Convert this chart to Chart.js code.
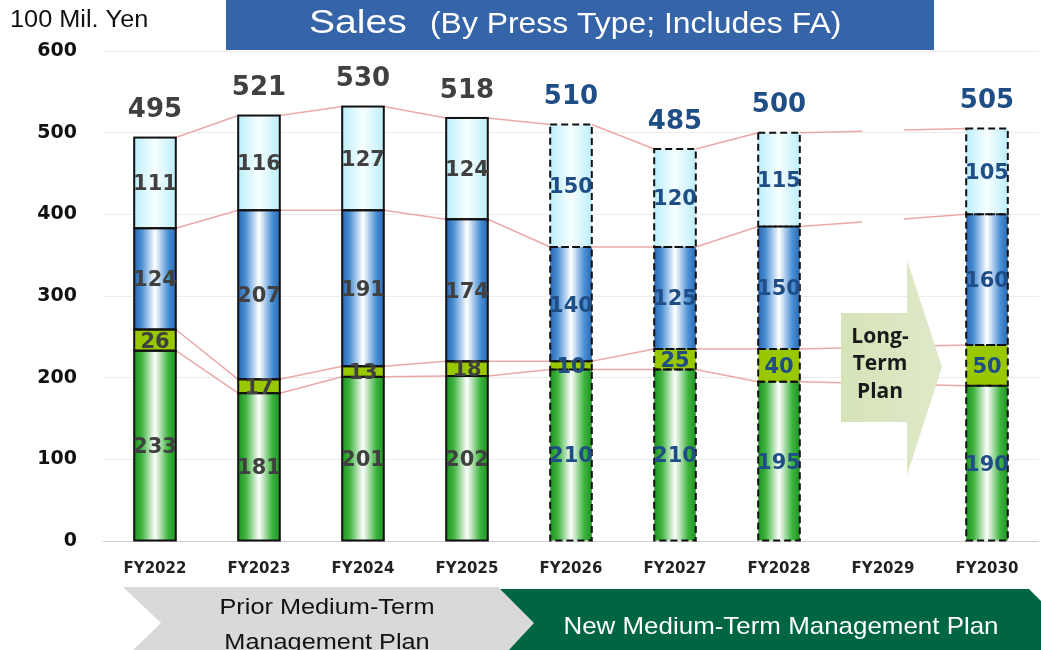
<!DOCTYPE html>
<html><head><meta charset="utf-8">
<script src="https://cdn.jsdelivr.net/npm/chart.js@4/dist/chart.umd.min.js"></script>
<style>html,body{margin:0;padding:0;background:#fff;overflow:hidden}#wrap{width:1041px;height:650px;position:relative}</style>
</head><body><div id="wrap"><canvas id="c" width="1041" height="650"></canvas></div>
<script>
const categories = ['FY2022','FY2023','FY2024','FY2025','FY2026','FY2027','FY2028','FY2029','FY2030'];
const seriesGreen  = [233, 181, 201, 202, 210, 210, 195, null, 190];
const seriesYG     = [ 26,  17,  13,  18,  10,  25,  40, null,  50];
const seriesBlue   = [124, 207, 191, 174, 140, 125, 150, null, 160];
const seriesLight  = [111, 116, 127, 124, 150, 120, 115, null, 105];
const totalLabels  = [495, 521, 530, 518, 510, 485, 500, null, 505];
const planFlags    = [false,false,false,false,true,true,true,true,true];
const yTicks = [0,100,200,300,400,500,600];
const unitLabel = '100 Mil. Yen';
const titleMain = 'Sales';
const titleSub = '(By Press Type; Includes FA)';
const priorPlanLines = ['Prior Medium-Term','Management Plan'];
const newPlanLabel = 'New Medium-Term Management Plan';
const longTermLines = ['Long-','Term','Plan'];
const longTermIndex = 7;

const BAR_PCT = 0.4;
function barW(chart){ const a = chart.chartArea; return (a.right - a.left) / categories.length * BAR_PCT; }
function grad(stops, fallback){
  return (ctx) => {
    const chart = ctx.chart;
    const xs = chart.scales && chart.scales.x;
    if (!xs || ctx.type !== 'data' || !chart.chartArea) return fallback;
    const cx = xs.getPixelForValue(ctx.dataIndex);
    const w = barW(chart);
    const g = chart.ctx.createLinearGradient(cx - w/2, 0, cx + w/2, 0);
    stops.forEach(s => g.addColorStop(s[0], s[1]));
    return g;
  };
}
const greenStops = [[0,'#1f9420'],[0.18,'#3fb33f'],[0.5,'#ffffff'],[0.82,'#3fb33f'],[1,'#1f9420']];
const blueStops  = [[0,'#2a69b4'],[0.18,'#4b90d5'],[0.5,'#ffffff'],[0.82,'#4b90d5'],[1,'#2a69b4']];
const lightStops = [[0,'#bdeef9'],[0.5,'#f7feff'],[1,'#bdeef9']];

const DS = [
  {label:'A', data: seriesGreen, backgroundColor: grad(greenStops,'#47b547')},
  {label:'B', data: seriesYG, backgroundColor: '#99c800'},
  {label:'C', data: seriesBlue, backgroundColor: grad(blueStops,'#4d92d6')},
  {label:'D', data: seriesLight, backgroundColor: grad(lightStops,'#d8f6fc')},
];
DS.forEach(d => { d.borderWidth = 0; d.barPercentage = BAR_PCT; d.categoryPercentage = 1.0; d.stack = 's'; });

const ACTUAL_TXT = '#404040', PLAN_TXT = '#1f4e86';

function scaledText(ctx, text, x, y, font, sx){
  ctx.save(); ctx.translate(x, y); ctx.scale(sx, 1); ctx.font = font; ctx.fillText(text, 0, 0); ctx.restore();
}

const overlay = {
  id: 'overlay',
  beforeDatasetsDraw(chart){
    const ctx = chart.ctx, xs = chart.scales.x, ys = chart.scales.y;
    const w = barW(chart);
    const idx = categories.map((c,i)=>i).filter(i => seriesGreen[i] != null);
    const levels = [];
    for (let k = 0; k < 4; k++) levels.push(categories.map((c,i)=> seriesGreen[i]==null ? null : DS.slice(0,k+1).reduce((s,d)=>s+d.data[i],0)));
    ctx.save();
    ctx.strokeStyle = '#eaa9a9'; ctx.lineWidth = 1.5;
    for (let n = 0; n < idx.length - 1; n++) {
      const i = idx[n], j = idx[n+1];
      const x1 = xs.getPixelForValue(i) + w/2, x2 = xs.getPixelForValue(j) - w/2;
      levels.forEach(lv => {
        const y1 = ys.getPixelForValue(lv[i]), y2 = ys.getPixelForValue(lv[j]);
        const yAt = x => y1 + (y2 - y1) * (x - x1) / (x2 - x1);
        let pts = [x1];
        for (let m = i+1; m < j; m++) { const cm = xs.getPixelForValue(m); pts.push(cm - w/2, cm + w/2); }
        pts.push(x2);
        ctx.beginPath();
        for (let p = 0; p < pts.length; p += 2) { ctx.moveTo(pts[p], yAt(pts[p])); ctx.lineTo(pts[p+1], yAt(pts[p+1])); }
        ctx.stroke();
      });
    }
    ctx.restore();
  },
  afterDatasetsDraw(chart){
    const ctx = chart.ctx, xs = chart.scales.x;
    ctx.save();
    DS.forEach((d, di) => {
      const meta = chart.getDatasetMeta(di);
      meta.data.forEach((el, i) => {
        if (d.data[i] == null) return;
        const p = el.getProps(['x','y','base','width'], true);
        ctx.strokeStyle = '#111'; ctx.lineWidth = 2;
        ctx.setLineDash(planFlags[i] ? [7,4] : []);
        ctx.strokeRect(p.x - p.width/2, Math.min(p.y,p.base), p.width, Math.abs(p.base - p.y));
      });
    });
    ctx.setLineDash([]);
    ctx.textAlign = 'center'; ctx.textBaseline = 'middle';
    ctx.font = 'bold 21px "DejaVu Sans"';
    DS.forEach((d, di) => {
      const meta = chart.getDatasetMeta(di);
      meta.data.forEach((el, i) => {
        if (d.data[i] == null) return;
        const p = el.getProps(['x','y','base'], true);
        ctx.fillStyle = planFlags[i] ? PLAN_TXT : ACTUAL_TXT;
        ctx.fillText(String(d.data[i]), p.x, (p.y + p.base)/2 + 2);
      });
    });
    ctx.font = 'bold 26px "DejaVu Sans"';
    const topMeta = chart.getDatasetMeta(3);
    topMeta.data.forEach((el, i) => {
      if (totalLabels[i] == null) return;
      const p = el.getProps(['x','y'], true);
      ctx.fillStyle = planFlags[i] ? PLAN_TXT : ACTUAL_TXT;
      ctx.fillText(String(totalLabels[i]), p.x, p.y - 27);
    });
    const cx = xs.getPixelForValue(longTermIndex);
    const bl = cx - 42, br = cx + 24, tip = cx + 59;
    const bt = 313, bb = 422, ht = 260, hb = 475, ty = 367;
    const g = ctx.createLinearGradient(bl, 0, tip, 0);
    g.addColorStop(0, '#d5e3b8'); g.addColorStop(1, '#dfe9c9');
    ctx.fillStyle = g;
    ctx.beginPath();
    ctx.moveTo(bl, bt); ctx.lineTo(br, bt); ctx.lineTo(br, ht); ctx.lineTo(tip, ty);
    ctx.lineTo(br, hb); ctx.lineTo(br, bb); ctx.lineTo(bl, bb); ctx.closePath(); ctx.fill();
    ctx.fillStyle = '#1a1a1a'; ctx.font = 'bold 21px "Open Sans"';
    longTermLines.forEach((t, k) => ctx.fillText(t, cx - 3, 337 + k*27.5));
    ctx.restore();
  },
  afterDraw(chart){
    const ctx = chart.ctx;
    ctx.save();
    ctx.fillStyle = '#111'; ctx.textAlign = 'left'; ctx.textBaseline = 'alphabetic';
    scaledText(ctx, unitLabel, 10, 27, '23px "Liberation Sans"', 1.1);
    ctx.fillStyle = '#3565a8';
    ctx.fillRect(226, 0, 708, 50);
    ctx.fillStyle = '#ffffff';
    scaledText(ctx, titleMain, 309, 33, '34px "Liberation Sans"', 1.15);
    scaledText(ctx, titleSub, 430, 33, '29px "Liberation Sans"', 1.1);
    ctx.fillStyle = '#d9d9d9';
    ctx.beginPath();
    ctx.moveTo(123, 587); ctx.lineTo(498, 587); ctx.lineTo(535, 623); ctx.lineTo(507, 652);
    ctx.lineTo(131, 652); ctx.lineTo(161, 623); ctx.closePath(); ctx.fill();
    ctx.fillStyle = '#006641';
    ctx.beginPath();
    ctx.moveTo(500, 589); ctx.lineTo(1029, 589); ctx.lineTo(1060, 620); ctx.lineTo(1041, 652);
    ctx.lineTo(507, 652); ctx.lineTo(534, 623); ctx.closePath(); ctx.fill();
    ctx.textAlign = 'center';
    ctx.fillStyle = '#111';
    priorPlanLines.forEach((t, k) => scaledText(ctx, t, 327, 614 + k*35, '22px "Liberation Sans"', 1.15));
    ctx.fillStyle = '#ffffff';
    scaledText(ctx, newPlanLabel, 781, 634, '24px "Liberation Sans"', 1.08);
    ctx.restore();
  }
};

new Chart(document.getElementById('c'), {
  type: 'bar',
  data: { labels: categories, datasets: DS },
  options: {
    responsive: false, animation: false, devicePixelRatio: 1,
    layout: { padding: { top: 51, right: 2, left: 0, bottom: 0 } },
    plugins: { legend: { display: false }, tooltip: { enabled: false }, title: { display: false } },
    scales: {
      x: {
        stacked: true,
        grid: { display: false, drawTicks: false },
        border: { display: false },
        ticks: { color: '#222', font: { family: 'DejaVu Sans', weight: 'bold', size: 15 }, padding: 19, maxRotation: 0 },
        afterFit: s => { s.height = 109; }
      },
      y: {
        stacked: true, min: 0, max: 600,
        afterBuildTicks: s => { s.ticks = yTicks.map(v => ({ value: v })); },
        grid: { color: c => c.tick && c.tick.value === 0 ? '#cfcfcf' : '#ececec', lineWidth: 1, drawTicks: false },
        border: { display: false },
        ticks: { color: '#111', font: { family: 'DejaVu Sans', weight: 'bold', size: 19 }, padding: 26 },
        afterFit: s => { s.width = 103; }
      }
    }
  },
  plugins: [overlay]
});
</script>
</body></html>
